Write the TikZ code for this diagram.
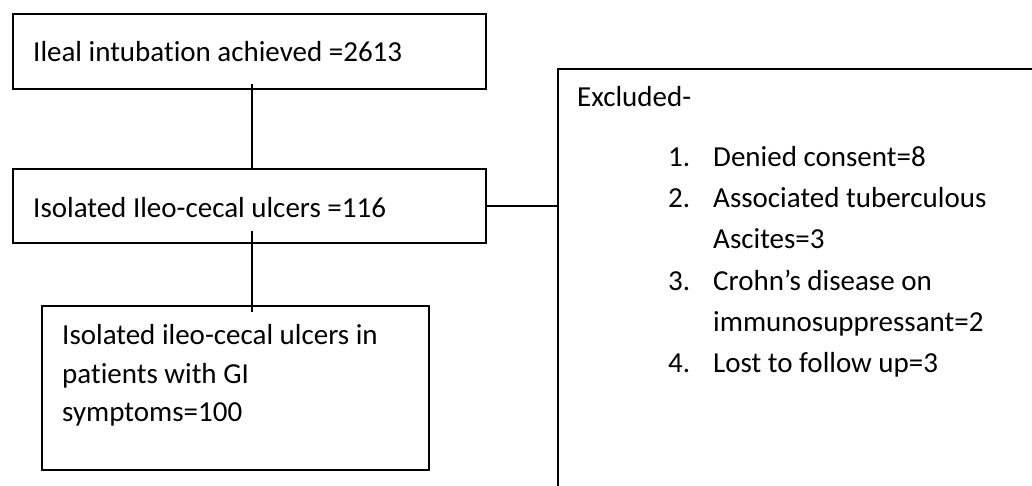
\documentclass[tikz,border=0pt]{standalone}
\usepackage{fontspec}
\setmainfont{Carlito}[Ligatures=CommonOff]
\tikzset{
  box/.style={draw, line width=1.8pt, rectangle, anchor=north west, inner sep=0pt},
  txt/.style={anchor=base west, inner sep=0pt, font=\fontsize{29}{35}\selectfont},
  conn/.style={line width=1.8pt}
}
\begin{document}
\begin{tikzpicture}[x=1pt,y=-1pt]
\useasboundingbox (0,0) rectangle (1032,485);
\clip (0,0) rectangle (1032,485);
% boxes
\node[box, minimum width=473pt, minimum height=75pt] (b1) at (12,13) {};
\node[box, minimum width=473pt, minimum height=74pt] (b2) at (12,168) {};
\node[box, minimum width=387pt, minimum height=164pt] (b3) at (41,305) {};
\node[box, minimum width=490pt, minimum height=440pt] (b4) at (557,68) {};
% texts
\node[txt] (t1) at (33,61) {Ileal intubation achieved =2613};
\node[txt] (t2) at (33,217) {Isolated Ileo-cecal ulcers =116};
\node[txt] (t3a) at (62,344) {Isolated ileo-cecal ulcers in};
\node[txt] (t3b) at (62,383) {patients with GI};
\node[txt] (t3c) at (62,421) {symptoms=100};
\node[txt] (ex) at (577,106) {Excluded-};
\node[txt] (n1) at (668,166) {1.};
\node[txt] (i1) at (713,166) {Denied consent=8};
\node[txt] (n2) at (668,207) {2.};
\node[txt] (i2) at (713,207) {Associated tuberculous};
\node[txt] (i2b) at (713,248) {Ascites=3};
\node[txt] (n3) at (668,290) {3.};
\node[txt] (i3) at (713,290) {Crohn’s disease on};
\node[txt] (i3b) at (713,331) {immunosuppressant=2};
\node[txt] (n4) at (668,372) {4.};
\node[txt] (i4) at (713,372) {Lost to follow up=3};
% connectors
\draw[conn] ([xshift=2.5pt,yshift=6pt]b1.south) -- ([xshift=2.5pt]b2.north);
\draw[conn] ([xshift=2.5pt,yshift=13pt]b2.south) -- ([xshift=2.5pt,yshift=-7pt]b2.south |- b3.north);
\draw[conn] (b2.east) -- (b4.west |- b2.east);
\end{tikzpicture}
\end{document}
